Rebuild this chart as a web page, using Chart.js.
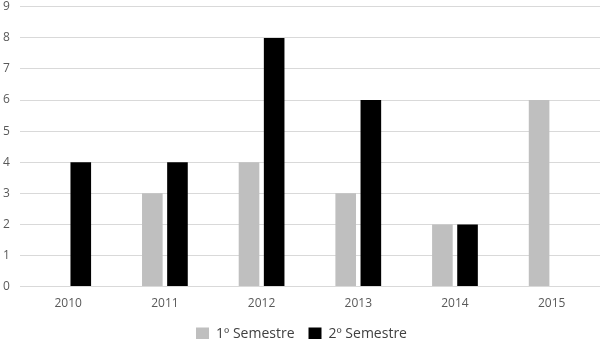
<!DOCTYPE html>
<html>
<head>
<meta charset="utf-8">
<script src="https://cdn.jsdelivr.net/npm/chart.js@4"></script>
<style>
  html, body { margin: 0; padding: 0; background: #fff; }
  #wrap { width: 600px; height: 339px; }
</style>
</head>
<body>
<div id="wrap"><canvas id="chart"></canvas></div>
<script>
const years = ["2010", "2011", "2012", "2013", "2014", "2015"];
const firstSemester = [0, 3, 4, 3, 2, 6];
const secondSemester = [4, 4, 8, 6, 2, 0];
const seriesNames = ["1º Semestre", "2º Semestre"];

const ctx = document.getElementById("chart").getContext("2d");
const chart = new Chart(ctx, {
    type: "bar",
    data: {
        labels: years,
        datasets: [
            { label: seriesNames[0], data: firstSemester, backgroundColor: "#bfbfbf" },
            { label: seriesNames[1], data: secondSemester, backgroundColor: "#000000" }
        ]
    },
    options: {
        responsive: true,
        maintainAspectRatio: false,
        animation: false,
        layout: { padding: { left: 3, right: 0, top: 0, bottom: -12 } },
        datasets: {
            bar: { categoryPercentage: 0.52, barPercentage: 0.82 }
        },
        scales: {
            x: {
                grid: { display: false },
                border: { display: false },
                ticks: { color: "#595959", font: { family: "Open Sans", size: 12 }, padding: 2 }
            },
            y: {
                min: 0,
                max: 9,
                ticks: { stepSize: 1, color: "#595959", font: { family: "Open Sans", size: 12, lineHeight: 0.3 }, padding: 5, crossAlign: "far" },
                grid: { color: "#d9d9d9", drawTicks: false },
                border: { display: false }
            }
        },
        plugins: {
            tooltip: { enabled: false },
            legend: {
                position: "bottom",
                labels: {
                    color: "#404040",
                    font: { family: "Open Sans", size: 14 },
                    boxWidth: 13,
                    boxHeight: 13,
                    padding: 14
                }
            }
        }
    }
});
</script>
</body>
</html>
